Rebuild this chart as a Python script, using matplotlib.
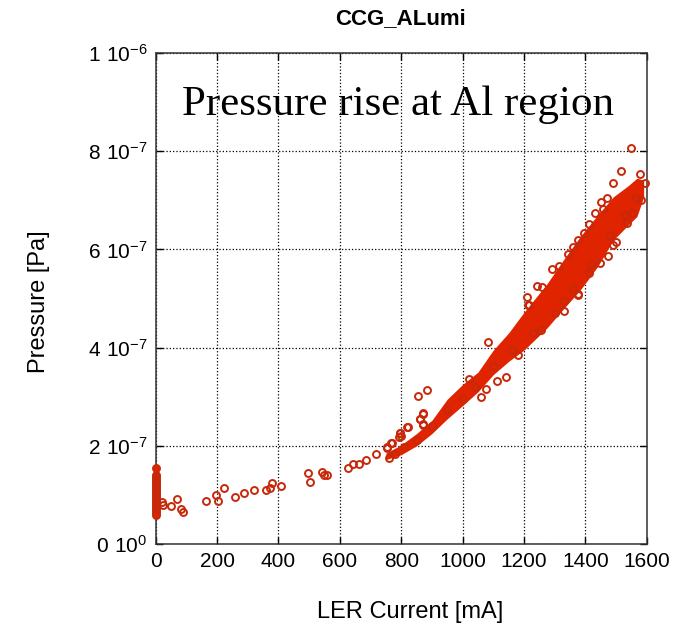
import matplotlib.pyplot as plt
import numpy as np

# LER current [mA] / pressure [Pa]
# dense band: outline of the filled region
band_x = [750, 800, 850, 900, 950, 1000, 1050, 1100, 1150, 1200, 1275, 1330, 1383, 1440, 1491, 1540, 1568, 1590]
band_hi = [1.85e-7, 2.02e-7, 2.25e-7, 2.52e-7, 2.95e-7, 3.25e-7, 3.50e-7, 3.95e-7, 4.30e-7, 4.72e-7, 5.30e-7,
           5.80e-7, 6.26e-7, 6.70e-7, 7.07e-7, 7.30e-7, 7.45e-7, 7.41e-7]
band_lo = [1.72e-7, 1.82e-7, 2.00e-7, 2.25e-7, 2.55e-7, 2.82e-7, 3.10e-7, 3.45e-7, 3.72e-7, 3.95e-7, 4.40e-7,
           4.80e-7, 5.17e-7, 5.65e-7, 6.19e-7, 6.50e-7, 6.67e-7, 7.07e-7]

# single points around the band and at low current
pts_x = [1548, 1517, 1491, 1578, 1595, 1470, 1450, 1456, 1432, 1412, 1396, 1377, 1361, 1345, 1315,
         1290, 1242, 1258, 1218, 1564, 1551, 1535, 1491, 1475, 1448, 1413, 1377, 1375, 1331, 1256,
         1084, 1142, 1111, 1076, 883, 856, 870, 861, 872, 821, 796, 794, 769, 755, 1214, 1209,
         19, 23, 50, 71, 81, 90, 164, 196, 204, 223, 258, 289, 320, 359, 372, 378, 408,
         497, 503, 541, 548, 559, 628, 644, 663, 685, 717, 755, 766, 798, 796, 820, 870, 861, 870,
         760, 780, 810, 850, 900, 950, 1000, 1040, 1100, 1160, 1230, 1300, 1360, 1420, 1480, 1530, 1580,
         1020, 1060, 1180, 1330, 1500]
pts_y = [8.06e-7, 7.60e-7, 7.36e-7, 7.54e-7, 7.36e-7, 7.04e-7, 6.97e-7, 6.82e-7, 6.75e-7, 6.52e-7,
         6.34e-7, 6.19e-7, 6.04e-7, 5.91e-7, 5.66e-7, 5.61e-7, 5.25e-7, 5.24e-7, 4.87e-7, 7.04e-7,
         6.75e-7, 6.53e-7, 6.09e-7, 5.87e-7, 5.72e-7, 5.51e-7, 5.09e-7, 5.08e-7, 4.75e-7, 4.36e-7,
         4.11e-7, 3.41e-7, 3.33e-7, 3.16e-7, 3.14e-7, 3.01e-7, 2.66e-7, 2.54e-7, 2.44e-7, 2.39e-7,
         2.27e-7, 2.17e-7, 2.06e-7, 1.97e-7, 4.87e-7, 5.04e-7,
         0.86e-7, 0.79e-7, 0.77e-7, 0.92e-7, 0.71e-7, 0.66e-7, 0.88e-7, 1.00e-7, 0.88e-7, 1.15e-7,
         0.96e-7, 1.04e-7, 1.10e-7, 1.10e-7, 1.15e-7, 1.25e-7, 1.18e-7,
         1.44e-7, 1.27e-7, 1.47e-7, 1.41e-7, 1.41e-7, 1.54e-7, 1.63e-7, 1.63e-7, 1.71e-7, 1.83e-7,
         1.95e-7, 2.06e-7, 2.20e-7, 2.27e-7, 2.39e-7, 2.65e-7, 2.54e-7, 2.42e-7,
         1.76e-7, 1.84e-7, 1.98e-7, 2.12e-7, 2.40e-7, 2.72e-7, 2.95e-7, 3.20e-7, 3.62e-7, 3.95e-7,
         4.30e-7, 4.70e-7, 5.20e-7, 5.70e-7, 6.30e-7, 6.70e-7, 7.00e-7,
         3.36e-7, 3.00e-7, 3.85e-7, 4.95e-7, 6.15e-7]

# cluster at zero current
zero_y = [1.54e-7, 1.40e-7, 1.36e-7, 1.32e-7, 1.28e-7, 1.24e-7, 1.20e-7, 1.16e-7, 1.12e-7, 1.08e-7,
          1.04e-7, 1.00e-7, 0.96e-7, 0.92e-7, 0.88e-7, 0.84e-7, 0.80e-7, 0.76e-7, 0.72e-7, 0.68e-7,
          0.64e-7, 0.60e-7]

xticks = [0, 200, 400, 600, 800, 1000, 1200, 1400, 1600]
yticks = [0, 2e-7, 4e-7, 6e-7, 8e-7, 1e-6]
ylabels = [r'$\mathregular{0\ 10^{0}}$', r'$\mathregular{2\ 10^{-7}}$', r'$\mathregular{4\ 10^{-7}}$',
           r'$\mathregular{6\ 10^{-7}}$', r'$\mathregular{8\ 10^{-7}}$', r'$\mathregular{1\ 10^{-6}}$']

plt.rcParams['font.family'] = ['Liberation Sans', 'DejaVu Sans']
red = '#e02400'
edge = '#c8280a'

fig = plt.figure(figsize=(6.84, 6.29), dpi=100)
ax = fig.add_axes([0.2276, 0.1351, 0.7179, 0.7806])

ax.fill_between(band_x, band_lo, band_hi, color=red, lw=0, zorder=2)
ax.plot(pts_x, pts_y, 'o', ms=5, mfc='none', mec=edge, mew=1.4, zorder=3, clip_on=False)
ax.plot([0] * len(zero_y), zero_y, 'o', ms=5, mfc=red, mec=edge, mew=1.4, zorder=3, clip_on=False)

ax.set_xlim(0, 1600)
ax.set_ylim(0, 1e-6)
ax.set_xticks(xticks)
ax.set_xticklabels([str(t) for t in xticks])
ax.set_yticks(yticks)
ax.set_yticklabels(ylabels)
ax.tick_params(direction='in', length=5, width=1, top=True, right=True, labelsize=15, pad=6)
ax.grid(color='black', linestyle=':', linewidth=0.9)
for s in ax.spines.values():
    s.set_linewidth(1.1)
    s.set_color('#333333')

ax.text(790, 8.95e-7, 'Pressure rise at Al region', family='Liberation Serif', fontsize=31,
        ha='center', va='center', zorder=4)

fig.text(0.585, 0.970, 'CCG_ALumi', fontsize=16, fontweight='bold', ha='center', va='center')
fig.text(0.60, 0.027, 'LER Current [mA]', fontsize=17, ha='center', va='center')
fig.text(0.057, 0.52, 'Pressure [Pa]', fontsize=17, ha='center', va='center', rotation=90)

fig.savefig('out.png', dpi=100)
